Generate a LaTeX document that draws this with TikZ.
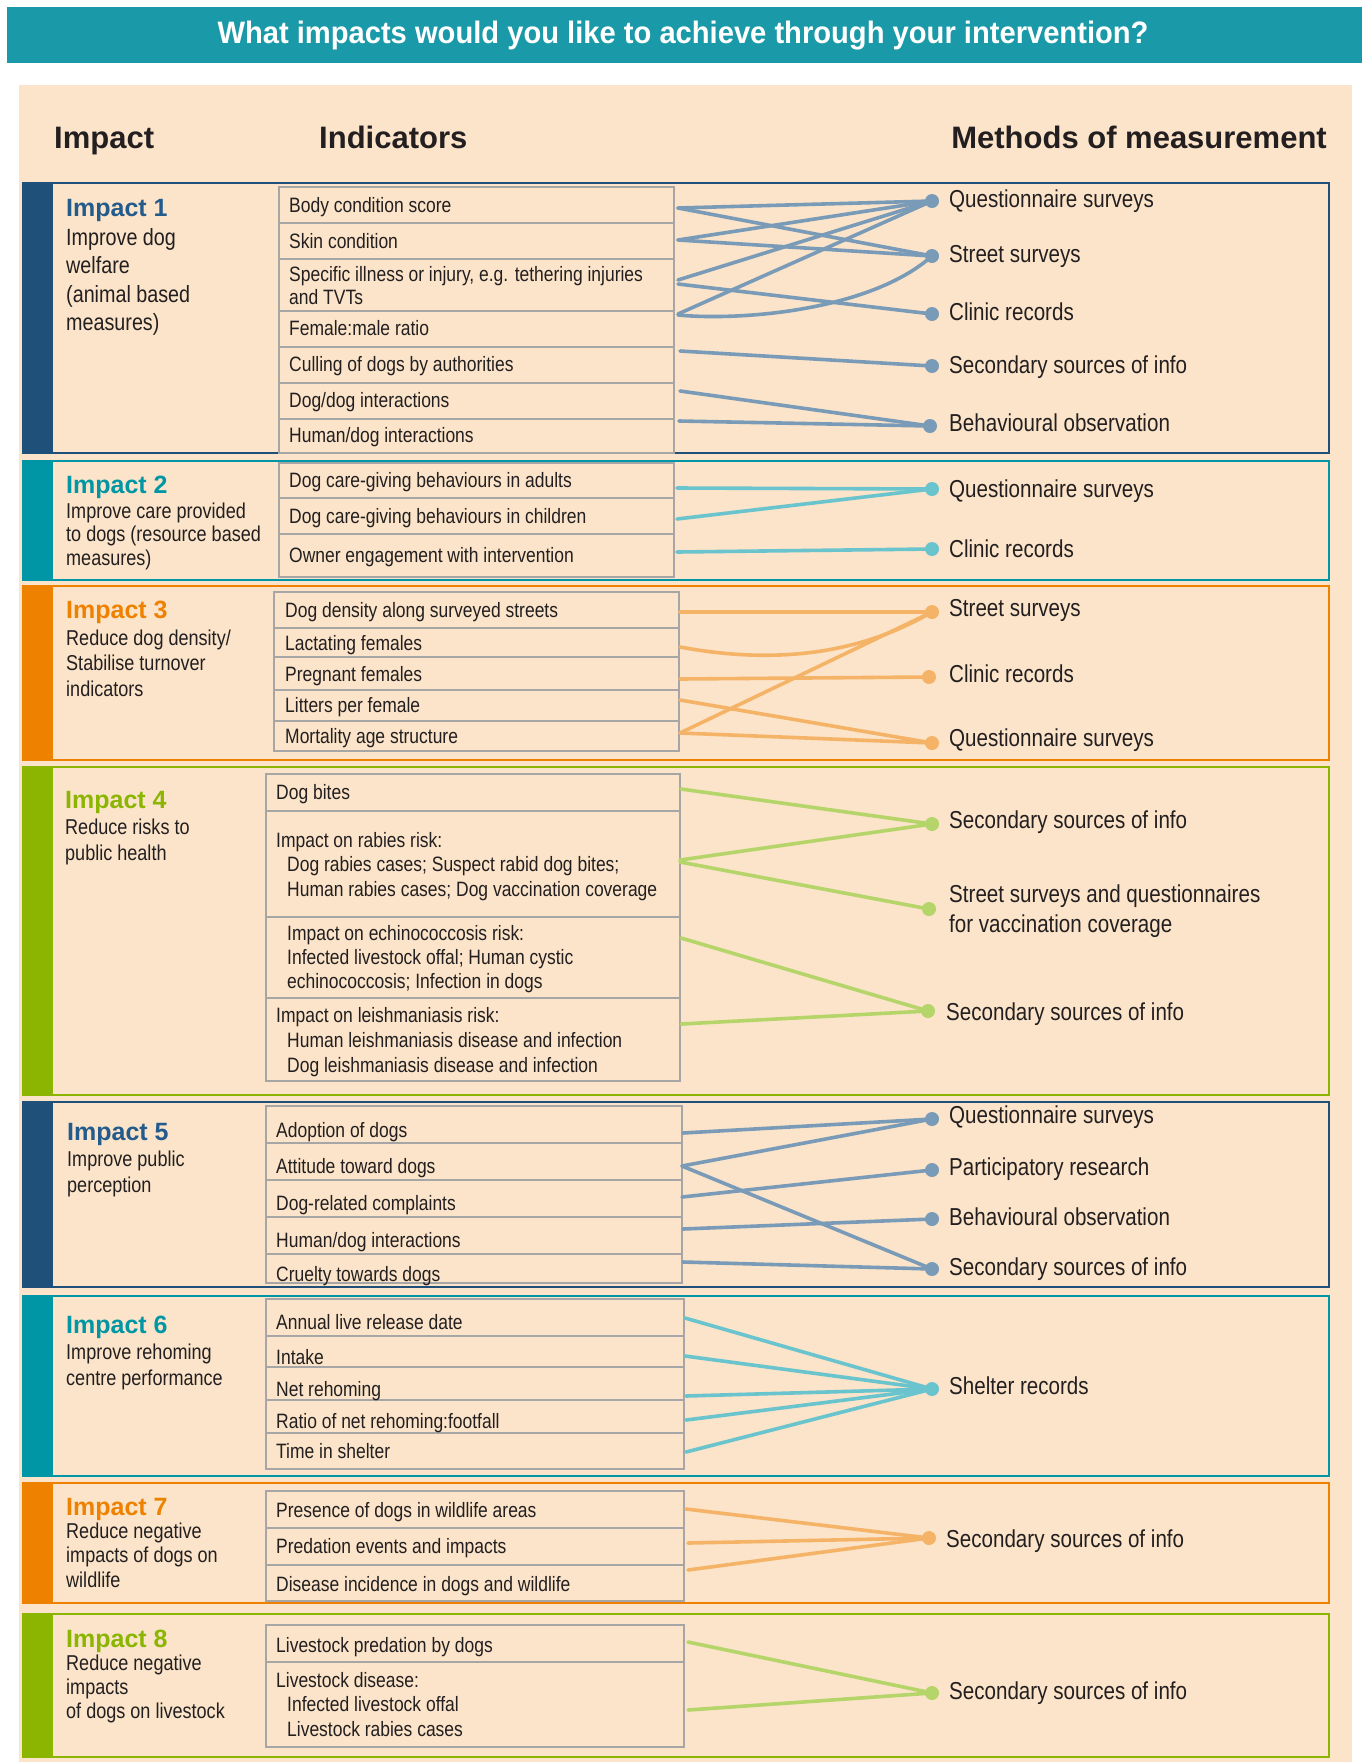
\documentclass[tikz,border=0pt]{standalone}
\usepackage{fontspec}
\setmainfont{Liberation Sans}
\newfontfamily\condf{Liberation Sans}[FakeStretch=0.84]
\newfontfamily\titlef{Liberation Sans}[FakeStretch=0.94]
\usetikzlibrary{calc}
\definecolor{titleteal}{HTML}{1A9AA8}
\definecolor{beige}{HTML}{FBE4C9}
\definecolor{dblue}{HTML}{1F5079}
\definecolor{teal}{HTML}{0096A5}
\definecolor{orng}{HTML}{EE8200}
\definecolor{grn}{HTML}{8BB500}
\definecolor{cdb}{HTML}{7A9BB7}
\definecolor{ctl}{HTML}{6AC4CD}
\definecolor{cor}{HTML}{F5B367}
\definecolor{cgr}{HTML}{B5D56B}
\definecolor{hdb}{HTML}{235B8C}
\definecolor{boxgray}{HTML}{A6A6A6}
\definecolor{ink}{HTML}{231F20}
\newcommand\impbox[3]{\fill[#1] (23,#2) rectangle (53,#3); \draw[#1,line width=2.5pt] (23,#2) rectangle (1329,#3);}
\begin{document}
\begin{tikzpicture}[x=1pt,y=-1pt,
  rowbox/.style={draw=boxgray,line width=1.3pt,inner sep=0pt,outer sep=0pt,anchor=north west},
  indtxt/.style={font=\condf\fontsize{20.8}{23}\selectfont,text=ink,inner sep=0pt,anchor=base west,align=left},
  mtxt/.style={font=\condf\fontsize{24.5}{30}\selectfont,text=ink,inner sep=0pt,anchor=base west,align=left},
  imphead/.style={font=\bfseries\fontsize{25}{25}\selectfont,inner sep=0pt,anchor=base west},
  impdesc/.style={font=\condf\fontsize{21.5}{#1}\selectfont,text=ink,inner sep=0pt,anchor=base west,align=left},
  colhead/.style={font=\bfseries\fontsize{31}{31}\selectfont,text=ink,inner sep=0pt},
  mdot/.style={circle,inner sep=0pt,minimum size=14pt,fill=#1},
  conn/.style={draw=#1,line width=3.6pt,line cap=round}]
\fill[white] (0,0) rectangle (1362,1762);
\useasboundingbox (0,0) rectangle (1362,1762);
\fill[beige] (19,85) rectangle (1352,1762);
\fill[titleteal] (7,7) rectangle (1362,63);
\node[font=\titlef\bfseries\fontsize{31}{31}\selectfont,text=white,inner sep=0pt,anchor=base] (title) at (683,43) {What impacts would you like to achieve through your intervention?};
\node[colhead,anchor=base west] (hImp) at (54,148) {Impact};
\node[colhead,anchor=base west] (hInd) at (319,148) {Indicators};
\node[colhead,anchor=base east] (hMet) at (1327,148) {Methods of measurement};
% impact boxes
\impbox{dblue}{183}{453}
\impbox{teal}{461}{580}
\impbox{orng}{586}{760}
\impbox{grn}{767}{1095}
\impbox{dblue}{1102}{1287}
\impbox{teal}{1296}{1476}
\impbox{orng}{1483}{1603}
\impbox{grn}{1614}{1757}
% impact labels (multi-line nodes anchored at the baseline of their last line)
\node[imphead,text=hdb] (h1) at (66,216) {Impact 1};
\node[font=\condf\fontsize{23.5}{28.5}\selectfont,text=ink,inner sep=0pt,anchor=base west,align=left] (d1) at (66,330.5) {Improve dog\\welfare\\(animal based\\measures)};
\node[imphead,text=teal] (h2) at (66,493) {Impact 2};
\node[impdesc=23.5] (d2) at (66,565) {Improve care provided\\to dogs (resource based\\measures)};
\node[imphead,text=orng] (h3) at (66,618) {Impact 3};
\node[impdesc=25.5] (d3) at (66,696) {Reduce dog density/\\Stabilise turnover\\indicators};
\node[imphead,text=grn] (h4) at (65,808) {Impact 4};
\node[impdesc=26] (d4) at (65,860) {Reduce risks to\\public health};
\node[imphead,text=hdb] (h5) at (67,1140) {Impact 5};
\node[impdesc=26] (d5) at (67,1192) {Improve public\\perception};
\node[imphead,text=teal] (h6) at (66,1333) {Impact 6};
\node[impdesc=26] (d6) at (66,1385) {Improve rehoming\\centre performance};
\node[imphead,text=orng] (h7) at (66,1515) {Impact 7};
\node[impdesc=24.5] (d7) at (66,1587) {Reduce negative\\impacts of dogs on\\wildlife};
\node[imphead,text=grn] (h8) at (66,1647) {Impact 8};
\node[impdesc=24] (d8) at (66,1718) {Reduce negative\\impacts\\of dogs on livestock};
% ---------- Impact 1 indicators
\node[rowbox,minimum width=395pt,minimum height=36pt] (r1a) at (279,187) {};
\node[rowbox,minimum width=395pt,minimum height=36pt] (r1b) at (279,223) {};
\node[rowbox,minimum width=395pt,minimum height=52pt] (r1c) at (279,259) {};
\node[rowbox,minimum width=395pt,minimum height=36pt] (r1d) at (279,311) {};
\node[rowbox,minimum width=395pt,minimum height=36pt] (r1e) at (279,347) {};
\node[rowbox,minimum width=395pt,minimum height=36pt] (r1f) at (279,383) {};
\node[rowbox,minimum width=395pt,minimum height=34pt] (r1g) at (279,419) {};
\node[indtxt] (t1a) at (289,212) {Body condition score};
\node[indtxt] (t1b) at (289,248) {Skin condition};
\node[indtxt] (t1c) at (289,304) {Specific illness or injury, e.g. tethering injuries\\and TVTs};
\node[indtxt] (t1d) at (289,335.5) {Female:male ratio};
\node[indtxt] (t1e) at (289,371.5) {Culling of dogs by authorities};
\node[indtxt] (t1f) at (289,407.5) {Dog/dog interactions};
\node[indtxt] (t1g) at (289,442.5) {Human/dog interactions};
\node[mdot=cdb] (m1q) at (932,201) {};
\node[mdot=cdb] (m1s) at (932,256) {};
\node[mdot=cdb] (m1c) at (932,314) {};
\node[mdot=cdb] (m1i) at (932,366) {};
\node[mdot=cdb] (m1o) at (930,426) {};
\node[mtxt] (m1qt) at (949,207) {Questionnaire surveys};
\node[mtxt] (m1st) at (949,262) {Street surveys};
\node[mtxt] (m1ct) at (949,320) {Clinic records};
\node[mtxt] (m1it) at (949,373) {Secondary sources of info};
\node[mtxt] (m1ot) at (949,431) {Behavioural observation};
\draw[conn=cdb] ([shift={(4,3)}]r1a.east) -- (m1q.center);
\draw[conn=cdb] ([shift={(4,3)}]r1a.east) -- (m1s.center);
\draw[conn=cdb] ([shift={(4,-1)}]r1b.east) -- (m1q.center);
\draw[conn=cdb] ([shift={(4,-1)}]r1b.east) -- (m1s.center);
\draw[conn=cdb] ([shift={(4,-5)}]r1c.east) -- (m1q.center);
\draw[conn=cdb] ([shift={(4,-1)}]r1c.east) -- (m1c.center);
\draw[conn=cdb] ([shift={(4,-15)}]r1d.east) -- (m1q.center);
\draw[conn=cdb] ([shift={(4,-14)}]r1d.east) .. controls (740,321) and (870,311) .. (m1s.center);
\draw[conn=cdb] ([shift={(6,-14)}]r1e.east) -- (m1i.center);
\draw[conn=cdb] ([shift={(6,-10)}]r1f.east) -- (m1o.center);
\draw[conn=cdb] ([shift={(5,-15)}]r1g.east) -- (m1o.center);
% ---------- Impact 2
\node[rowbox,minimum width=395pt,minimum height=35pt] (r2a) at (279,463) {};
\node[rowbox,minimum width=395pt,minimum height=36pt] (r2b) at (279,498) {};
\node[rowbox,minimum width=395pt,minimum height=43pt] (r2c) at (279,534) {};
\node[indtxt] (t2a) at (289,487) {Dog care-giving behaviours in adults};
\node[indtxt] (t2b) at (289,523) {Dog care-giving behaviours in children};
\node[indtxt] (t2c) at (289,562) {Owner engagement with intervention};
\node[mdot=ctl] (m2q) at (932,489) {};
\node[mdot=ctl] (m2c) at (932,549) {};
\node[mtxt] (m2qt) at (949,497) {Questionnaire surveys};
\node[mtxt] (m2ct) at (949,557) {Clinic records};
\draw[conn=ctl] ([shift={(3,7.5)}]r2a.east) -- (m2q.center);
\draw[conn=ctl] ([shift={(3,3)}]r2b.east) -- (m2q.center);
\draw[conn=ctl] ([shift={(3,-3.5)}]r2c.east) -- (m2c.center);
% ---------- Impact 3
\node[rowbox,minimum width=405pt,minimum height=36pt] (r3a) at (274,592) {};
\node[rowbox,minimum width=405pt,minimum height=29pt] (r3b) at (274,628) {};
\node[rowbox,minimum width=405pt,minimum height=33pt] (r3c) at (274,657) {};
\node[rowbox,minimum width=405pt,minimum height=31pt] (r3d) at (274,690) {};
\node[rowbox,minimum width=405pt,minimum height=30pt] (r3e) at (274,721) {};
\node[indtxt] (t3a) at (285,617) {Dog density along surveyed streets};
\node[indtxt] (t3b) at (285,650) {Lactating females};
\node[indtxt] (t3c) at (285,681) {Pregnant females};
\node[indtxt] (t3d) at (285,712) {Litters per female};
\node[indtxt] (t3e) at (285,743) {Mortality age structure};
\node[mdot=cor] (m3s) at (932,612) {};
\node[mdot=cor] (m3c) at (929,677) {};
\node[mdot=cor] (m3q) at (932,743) {};
\node[mtxt] (m3st) at (949,616) {Street surveys};
\node[mtxt] (m3ct) at (949,682) {Clinic records};
\node[mtxt] (m3qt) at (949,746) {Questionnaire surveys};
\draw[conn=cor] ([shift={(1,2)}]r3a.east) -- (m3s.center);
\draw[conn=cor] ([shift={(1,4.5)}]r3b.east) .. controls (760,662) and (850,660) .. (m3s.center);
\draw[conn=cor] ([shift={(1,5.5)}]r3c.east) -- (m3c.center);
\draw[conn=cor] ([shift={(1,-5.5)}]r3d.east) -- (m3q.center);
\draw[conn=cor] ([shift={(1,-3)}]r3e.east) -- (m3s.center);
\draw[conn=cor] ([shift={(1,-3)}]r3e.east) -- (m3q.center);
% ---------- Impact 4
\node[rowbox,minimum width=414pt,minimum height=37pt] (r4a) at (266,774) {};
\node[rowbox,minimum width=414pt,minimum height=106pt] (r4b) at (266,811) {};
\node[rowbox,minimum width=414pt,minimum height=81pt] (r4c) at (266,917) {};
\node[rowbox,minimum width=414pt,minimum height=83pt] (r4d) at (266,998) {};
\node[indtxt] (t4a) at (276,799) {Dog bites};
\node[indtxt,font=\condf\fontsize{20.8}{24.5}\selectfont] (t4b) at (276,896) {Impact on rabies risk:\\\hspace*{11pt}Dog rabies cases; Suspect rabid dog bites;\\\hspace*{11pt}Human rabies cases; Dog vaccination coverage};
\node[indtxt,font=\condf\fontsize{20.8}{24}\selectfont] (t4c) at (287,988) {Impact on echinococcosis risk:\\Infected livestock offal; Human cystic\\echinococcosis; Infection in dogs};
\node[indtxt,font=\condf\fontsize{20.8}{25}\selectfont] (t4d) at (276,1072) {Impact on leishmaniasis risk:\\\hspace*{11pt}Human leishmaniasis disease and infection\\\hspace*{11pt}Dog leishmaniasis disease and infection};
\node[mdot=cgr] (m4a) at (932,824) {};
\node[mdot=cgr] (m4b) at (929,909) {};
\node[mdot=cgr] (m4c) at (928,1011) {};
\node[mtxt] (m4at) at (949,828) {Secondary sources of info};
\node[mtxt] (m4bt) at (949,932) {Street surveys and questionnaires\\for vaccination coverage};
\node[mtxt] (m4ct) at (946,1020) {Secondary sources of info};
\draw[conn=cgr] ([shift={(1,-3.5)}]r4a.east) -- (m4a.center);
\draw[conn=cgr] ([shift={(0,-4)}]r4b.east) -- (m4a.center);
\draw[conn=cgr] ([shift={(0,-2)}]r4b.east) -- (m4b.center);
\draw[conn=cgr] ([shift={(1,-19.5)}]r4c.east) -- (m4c.center);
\draw[conn=cgr] ([shift={(1,-15.5)}]r4d.east) -- (m4c.center);
% ---------- Impact 5
\node[rowbox,minimum width=416pt,minimum height=37pt] (r5a) at (266,1106) {};
\node[rowbox,minimum width=416pt,minimum height=37pt] (r5b) at (266,1143) {};
\node[rowbox,minimum width=416pt,minimum height=37pt] (r5c) at (266,1180) {};
\node[rowbox,minimum width=416pt,minimum height=37pt] (r5d) at (266,1217) {};
\node[rowbox,minimum width=416pt,minimum height=29pt] (r5e) at (266,1254) {};
\node[indtxt] (t5a) at (276,1137) {Adoption of dogs};
\node[indtxt] (t5b) at (276,1173) {Attitude toward dogs};
\node[indtxt] (t5c) at (276,1210) {Dog-related complaints};
\node[indtxt] (t5d) at (276,1247) {Human/dog interactions};
\node[indtxt] (t5e) at (276,1281) {Cruelty towards dogs};
\node[mdot=cdb] (m5q) at (932,1119) {};
\node[mdot=cdb] (m5p) at (932,1170) {};
\node[mdot=cdb] (m5b) at (932,1219) {};
\node[mdot=cdb] (m5s) at (932,1269) {};
\node[mtxt] (m5qt) at (949,1123) {Questionnaire surveys};
\node[mtxt] (m5pt) at (949,1175) {Participatory research};
\node[mtxt] (m5bt) at (949,1225) {Behavioural observation};
\node[mtxt] (m5st) at (949,1275) {Secondary sources of info};
\draw[conn=cdb] ([shift={(1,8.5)}]r5a.east) -- (m5q.center);
\draw[conn=cdb] ([shift={(0,4.5)}]r5b.east) -- (m5q.center);
\draw[conn=cdb] ([shift={(0,4.5)}]r5b.east) -- (m5s.center);
\draw[conn=cdb] ([shift={(0,-1.5)}]r5c.east) -- (m5p.center);
\draw[conn=cdb] ([shift={(1,-6.5)}]r5d.east) -- (m5b.center);
\draw[conn=cdb] ([shift={(1,-6.5)}]r5e.east) -- (m5s.center);
% ---------- Impact 6
\node[rowbox,minimum width=418pt,minimum height=37pt] (r6a) at (266,1299) {};
\node[rowbox,minimum width=418pt,minimum height=31pt] (r6b) at (266,1336) {};
\node[rowbox,minimum width=418pt,minimum height=33pt] (r6c) at (266,1367) {};
\node[rowbox,minimum width=418pt,minimum height=33pt] (r6d) at (266,1400) {};
\node[rowbox,minimum width=418pt,minimum height=36pt] (r6e) at (266,1433) {};
\node[indtxt] (t6a) at (276,1329) {Annual live release date};
\node[indtxt] (t6b) at (276,1364) {Intake};
\node[indtxt] (t6c) at (276,1396) {Net rehoming};
\node[indtxt] (t6d) at (276,1428) {Ratio of net rehoming:footfall};
\node[indtxt] (t6e) at (276,1458) {Time in shelter};
\node[mdot=ctl] (m6) at (932,1389) {};
\node[mtxt] (m6t) at (949,1394) {Shelter records};
\draw[conn=ctl] ([shift={(1,0.5)}]r6a.east) -- (m6.center);
\draw[conn=ctl] ([shift={(1,4.5)}]r6b.east) -- (m6.center);
\draw[conn=ctl] ([shift={(2,12.5)}]r6c.east) -- (m6.center);
\draw[conn=ctl] ([shift={(2,3.5)}]r6d.east) -- (m6.center);
\draw[conn=ctl] ([shift={(2,1)}]r6e.east) -- (m6.center);
% ---------- Impact 7
\node[rowbox,minimum width=418pt,minimum height=37pt] (r7a) at (266,1491) {};
\node[rowbox,minimum width=418pt,minimum height=37pt] (r7b) at (266,1528) {};
\node[rowbox,minimum width=418pt,minimum height=36pt] (r7c) at (266,1565) {};
\node[indtxt] (t7a) at (276,1517) {Presence of dogs in wildlife areas};
\node[indtxt] (t7b) at (276,1553) {Predation events and impacts};
\node[indtxt] (t7c) at (276,1591) {Disease incidence in dogs and wildlife};
\node[mdot=cor] (m7) at (929,1538) {};
\node[mtxt] (m7t) at (946,1547) {Secondary sources of info};
\draw[conn=cor] ([shift={(2,-0.5)}]r7a.east) -- (m7.center);
\draw[conn=cor] ([shift={(4,-3.5)}]r7b.east) -- (m7.center);
\draw[conn=cor] ([shift={(4,-13)}]r7c.east) -- (m7.center);
% ---------- Impact 8
\node[rowbox,minimum width=418pt,minimum height=37pt] (r8a) at (266,1625) {};
\node[rowbox,minimum width=418pt,minimum height=85pt] (r8b) at (266,1662) {};
\node[indtxt] (t8a) at (276,1652) {Livestock predation by dogs};
\node[indtxt,font=\condf\fontsize{20.8}{24.5}\selectfont] (t8b) at (276,1736) {Livestock disease:\\\hspace*{11pt}Infected livestock offal\\\hspace*{11pt}Livestock rabies cases};
\node[mdot=cgr] (m8) at (932,1693) {};
\node[mtxt] (m8t) at (949,1699) {Secondary sources of info};
\draw[conn=cgr] ([shift={(4,-1.5)}]r8a.east) -- (m8.center);
\draw[conn=cgr] ([shift={(4,5.5)}]r8b.east) -- (m8.center);
\end{tikzpicture}
\end{document}
